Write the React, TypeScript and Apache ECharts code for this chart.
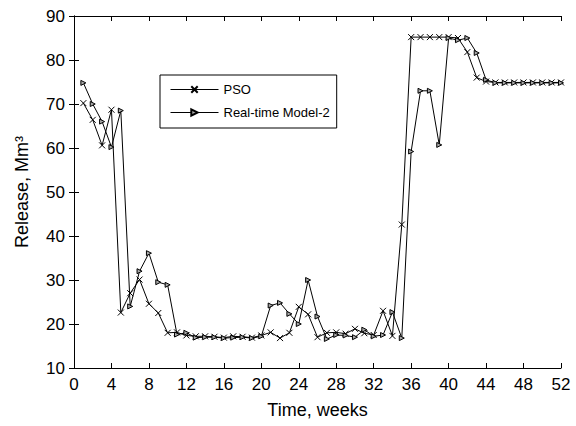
import React, { useEffect, useRef } from "react";
import * as echarts from "echarts";

const weeks = Array.from({ length: 52 }, (_, i) => i + 1);
const psoValues = [
  70.2, 66.4, 60.6, 68.7, 22.6, 27, 30.1, 24.6, 22.5, 18, 18.1, 17.4, 17.2, 17.2, 17.1, 16.9,
  17.2, 17.1, 16.9, 17.4, 18.1, 16.8, 18, 23.9, 22.2, 17, 18, 18.1, 17.8, 18.9, 17.9, 17.5,
  23, 17.3, 42.6, 85.2, 85.2, 85.2, 85.2, 85.2, 85, 81.8, 76, 75.1, 74.9, 74.9, 74.9, 74.9,
  74.9, 74.9, 74.9, 74.9,
];
const rtValues = [
  74.8, 70, 66, 60.2, 68.5, 24, 32, 36.1, 29.5, 28.9, 17.6, 18, 16.9, 17, 17, 16.8, 16.9, 17,
  16.8, 17.2, 24.2, 24.8, 22.3, 20, 30, 21.7, 16.6, 17.5, 17.4, 17, 18.7, 17.2, 17.5, 22.7,
  16.8, 59.2, 73, 73, 60.7, 85, 84.5, 85, 81.6, 75.5, 74.8, 74.8, 74.8, 74.8, 74.8, 74.8, 74.8,
  74.8,
];
const seriesNames = ["PSO", "Real-time Model-2"];

const FONT = "'Liberation Sans', Arial, sans-serif";

export default function App() {
  const ref = useRef<HTMLDivElement>(null);
  useEffect(() => {
    if (!ref.current) return;
    const chart = echarts.init(ref.current, undefined, { renderer: "svg" });
    const axisCommon = {
      axisLine: { show: true, lineStyle: { color: "#000", width: 1 } },
      axisTick: { show: true, inside: true, length: 5, lineStyle: { color: "#000" } },
      splitLine: { show: false },
    };
    chart.setOption({
      animation: false,
      backgroundColor: "#fff",
      textStyle: { fontFamily: FONT },
      grid: { left: 74, right: 15, top: 16, bottom: 58, containLabel: false },
      legend: {
        orient: "vertical",
        left: 160,
        top: 75,
        data: seriesNames,
        itemWidth: 48,
        itemHeight: 8,
        itemGap: 10,
        padding: [8, 7, 9, 10],
        borderColor: "#000",
        borderWidth: 1,
        backgroundColor: "#fff",
        lineStyle: { width: 1 },
        textStyle: { color: "#000", fontSize: 13, fontFamily: FONT },
      },
      xAxis: [
        {
          type: "value",
          min: 0,
          max: 52,
          interval: 4,
          position: "bottom",
          name: "Time, weeks",
          nameLocation: "middle",
          nameGap: 33,
          nameTextStyle: { color: "#000", fontSize: 18, fontFamily: FONT },
          axisLabel: { color: "#000", fontSize: 17, margin: 8, fontFamily: FONT },
          ...axisCommon,
        },
        {
          type: "value",
          min: 0,
          max: 52,
          interval: 4,
          position: "top",
          axisLabel: { show: false },
          ...axisCommon,
        },
      ],
      yAxis: [
        {
          type: "value",
          min: 10,
          max: 90,
          interval: 10,
          position: "left",
          name: "Release, Mm³",
          nameLocation: "middle",
          nameGap: 43,
          nameTextStyle: { color: "#000", fontSize: 18, fontFamily: FONT },
          axisLabel: { color: "#000", fontSize: 17, margin: 9, fontFamily: FONT },
          ...axisCommon,
        },
        {
          type: "value",
          min: 10,
          max: 90,
          interval: 10,
          position: "right",
          axisLabel: { show: false },
          ...axisCommon,
        },
      ],
      series: [
        {
          name: seriesNames[0],
          type: "line",
          data: weeks.map((w, i) => [w, psoValues[i]]),
          symbol: "path://M0,0L10,10M10,0L0,10",
          symbolSize: 6,
          lineStyle: { color: "#000", width: 1 },
          itemStyle: { color: "#000", borderColor: "#000", borderWidth: 1 },
        },
        {
          name: seriesNames[1],
          type: "line",
          data: weeks.map((w, i) => [w, rtValues[i]]),
          symbol: "path://M0,0L10,5L0,10Z",
          symbolSize: 5,
          lineStyle: { color: "#000", width: 1 },
          itemStyle: { color: "#aaa", borderColor: "#000", borderWidth: 1 },
        },
      ],
    });
    return () => chart.dispose();
  }, []);
  return (
    <div
      ref={ref}
      style={{ position: "absolute", left: 0, top: 0, width: 576, height: 426 }}
    />
  );
}
